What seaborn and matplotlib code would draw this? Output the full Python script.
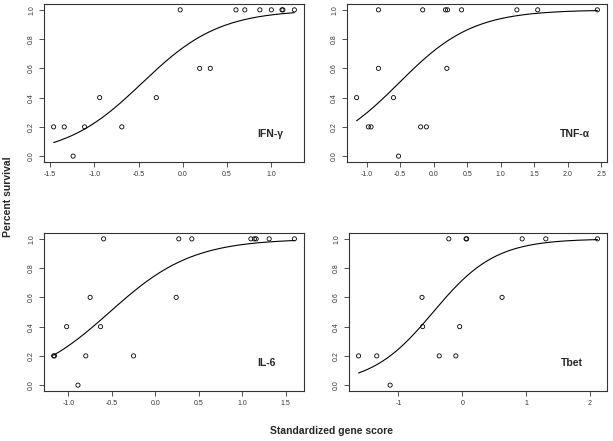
import numpy as np
import pandas as pd
import matplotlib
matplotlib.use("Agg")
import matplotlib.pyplot as plt
from matplotlib.ticker import FormatStrFormatter
import seaborn as sns

# standardized gene score vs. percent survival, one panel per gene
ifng_score = [-1.46, -1.34, -1.24, -1.11, -0.94, -0.69, -0.30, -0.03, 0.19, 0.31,
              0.60, 0.70, 0.87, 1.00, 1.12, 1.13, 1.26]
ifng_surv = [0.2, 0.2, 0.0, 0.2, 0.4, 0.2, 0.4, 1.0, 0.6, 0.6,
             1.0, 1.0, 1.0, 1.0, 1.0, 1.0, 1.0]

tnfa_score = [-1.15, -0.975, -0.935, -0.825, -0.825, -0.60, -0.525, -0.195, -0.165, -0.11,
              0.175, 0.205, 0.195, 0.415, 1.24, 1.55, 2.44]
tnfa_surv = [0.4, 0.2, 0.2, 1.0, 0.6, 0.4, 0.0, 0.2, 1.0, 0.2,
             1.0, 1.0, 0.6, 1.0, 1.0, 1.0, 1.0]

il6_score = [-1.17, -1.16, -1.02, -0.89, -0.80, -0.75, -0.63, -0.595, -0.25, 0.24,
             0.27, 0.42, 1.10, 1.14, 1.16, 1.31, 1.60]
il6_surv = [0.2, 0.2, 0.4, 0.0, 0.2, 0.6, 0.4, 1.0, 0.2, 0.6,
            1.0, 1.0, 1.0, 1.0, 1.0, 1.0, 1.0]

tbet_score = [-1.625, -1.34, -1.13, -0.63, -0.62, -0.36, -0.21, -0.10, -0.04, 0.06,
              0.07, 0.625, 0.94, 1.31, 2.12]
tbet_surv = [0.2, 0.2, 0.0, 0.6, 0.4, 0.2, 1.0, 0.2, 0.4, 1.0,
             1.0, 0.6, 1.0, 1.0, 1.0]

# logistic fit (intercept, slope) for each gene
ifng_fit = [1.05, 2.28]
tnfa_fit = [0.94, 1.81]
il6_fit = [1.10, 2.10]
tbet_fit = [0.93, 2.05]

gene_names = ["IFN-γ", "TNF-α", "IL-6", "Tbet"]
x_ticks = [[-1.5, -1.0, -0.5, 0.0, 0.5, 1.0],
           [-1.0, -0.5, 0.0, 0.5, 1.0, 1.5, 2.0, 2.5],
           [-1.0, -0.5, 0.0, 0.5, 1.0, 1.5],
           [-1, 0, 1, 2]]
y_ticks = [0.0, 0.2, 0.4, 0.6, 0.8, 1.0]

sns.set_style("ticks")
plt.rcParams['font.family'] = ['Liberation Sans', 'DejaVu Sans']
plt.rcParams['axes.unicode_minus'] = False

fig = plt.figure(figsize=(6.13, 4.41), dpi=100)
W, H = 613, 441
rects = [[44 / W, 1 - 162 / H, 260 / W, 158 / H],
         [347 / W, 1 - 162 / H, 260 / W, 158 / H],
         [44 / W, 1 - 391 / H, 260 / W, 158 / H],
         [349 / W, 1 - 391 / H, 258 / W, 158 / H]]

panels = [(ifng_score, ifng_surv, ifng_fit),
          (tnfa_score, tnfa_surv, tnfa_fit),
          (il6_score, il6_surv, il6_fit),
          (tbet_score, tbet_surv, tbet_fit)]

for i, (score, surv, fit) in enumerate(panels):
    ax = fig.add_axes(rects[i])
    df = pd.DataFrame({'score': score, 'surv': surv})
    xs = np.linspace(min(score), max(score), 200)
    curve = pd.DataFrame({'score': xs, 'surv': 1 / (1 + np.exp(-(fit[0] + fit[1] * xs)))})

    sns.lineplot(data=curve, x='score', y='surv', ax=ax, color='black',
                 lw=0.8, estimator=None, sort=False)
    sns.scatterplot(data=df, x='score', y='surv', ax=ax, marker='o', s=9,
                    facecolor='none', edgecolor='black', linewidth=0.6)

    span = max(score) - min(score)
    ax.set_xlim(min(score) - 0.04 * span, max(score) + 0.04 * span)
    ax.set_ylim(-0.04, 1.04)
    ax.set_xticks(x_ticks[i])
    ax.set_yticks(y_ticks)
    ax.xaxis.set_major_formatter(FormatStrFormatter('%d' if i == 3 else '%.1f'))
    ax.yaxis.set_major_formatter(FormatStrFormatter('%.1f'))
    ax.tick_params(labelsize=5, length=3.5, width=0.6, pad=3, colors='#333333')
    for lab in ax.get_yticklabels():
        lab.set_rotation(90)
        lab.set_va('center')
    for sp in ax.spines.values():
        sp.set_visible(True)
        sp.set_linewidth(0.8)
        sp.set_color('#333333')
    ax.set_xlabel('')
    ax.set_ylabel('')
    ax.text(0.82, 0.18, gene_names[i], transform=ax.transAxes, fontsize=7.5,
            fontweight='bold', ha='left', va='center')

fig.text(8 / W, 1 - 197 / H, 'Percent survival', rotation=90, fontsize=7.5,
         fontweight='bold', ha='center', va='center')
fig.text(331 / W, 1 - 431 / H, 'Standardized gene score', fontsize=7.5,
         fontweight='bold', ha='center', va='center')

fig.savefig('out.png', dpi=100)
